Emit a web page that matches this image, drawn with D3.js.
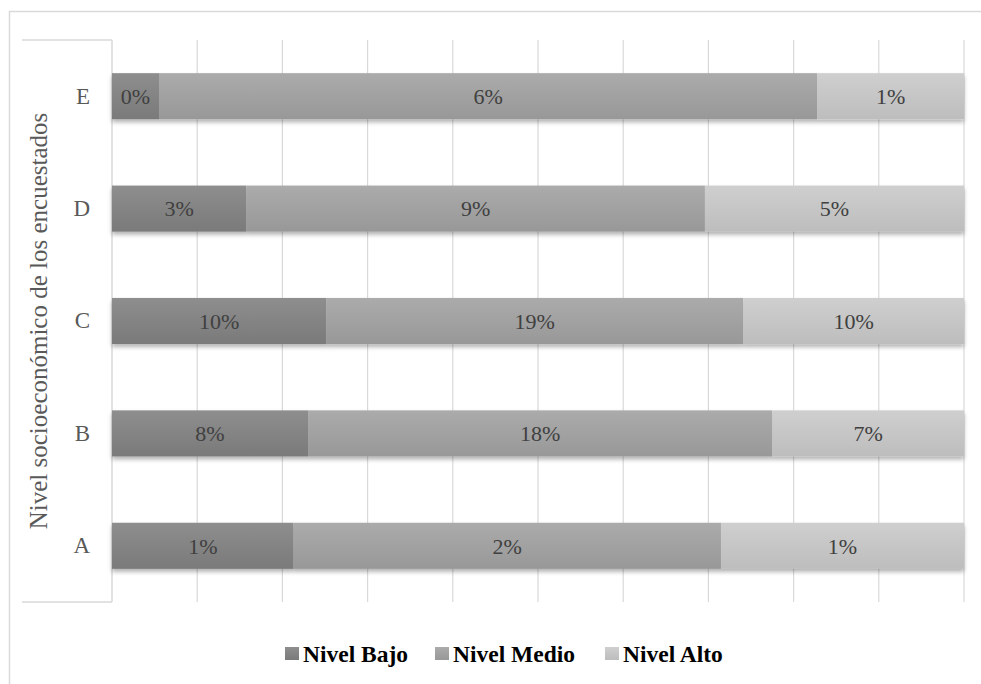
<!DOCTYPE html>
<html>
<head>
<meta charset="utf-8">
<script src="https://cdn.jsdelivr.net/npm/d3@7"></script>
</head>
<body style="margin:0;padding:0;background:#fff">
<div id="chart"></div>
<script>
// Socioeconomic level (A–E) split by level (Bajo / Medio / Alto), shares in %
const categories = ["A", "B", "C", "D", "E"];
const seriesNames = ["Nivel Bajo", "Nivel Medio", "Nivel Alto"];
const nivelBajo  = [0.68, 7.6, 9.8, 2.7, 0.4];
const nivelMedio = [1.6, 18.0, 19.1, 9.2, 5.6];
const nivelAlto  = [0.91, 7.43, 10.1, 5.2, 1.25];
const xTicks = [0, 0.1, 0.2, 0.3, 0.4, 0.5, 0.6, 0.7, 0.8, 0.9, 1];
const axisTitle = "Nivel socioeconómico de los encuestados";

const FONT = '"Liberation Serif"';
const W = 981, H = 684;
const plot = { left: 112, right: 964, top: 40, bottom: 602 };

const colors = [
  { top: "#8e8e8e", bottom: "#7a7a7a" },
  { top: "#ababab", bottom: "#989898" },
  { top: "#cfcfcf", bottom: "#bdbdbd" }
];

const rows = categories.map((c, i) => ({
  cat: c, "Nivel Bajo": nivelBajo[i], "Nivel Medio": nivelMedio[i], "Nivel Alto": nivelAlto[i]
}));

const stack = d3.stack().keys(seriesNames).offset(d3.stackOffsetExpand);
const layers = stack(rows);

const x = d3.scaleLinear().domain([0, 1]).range([plot.left, plot.right]);
const y = d3.scaleBand().domain(categories.slice().reverse())
  .range([plot.top, plot.bottom]).paddingInner(0.59).paddingOuter(0.295);

const svg = d3.select("#chart").append("svg").attr("width", W).attr("height", H)
  .style("display", "block");
const defs = svg.append("defs");

colors.forEach((c, i) => {
  const g = defs.append("linearGradient").attr("id", "grad" + i)
    .attr("x1", 0).attr("y1", 0).attr("x2", 0).attr("y2", 1);
  g.append("stop").attr("offset", "0%").attr("stop-color", c.top);
  g.append("stop").attr("offset", "100%").attr("stop-color", c.bottom);
});

const shadow = defs.append("filter").attr("id", "shadow")
  .attr("x", "-5%").attr("y", "-20%").attr("width", "110%").attr("height", "160%");
shadow.append("feDropShadow").attr("dx", 0).attr("dy", 3).attr("stdDeviation", 2)
  .attr("flood-color", "#000").attr("flood-opacity", 0.3);

// outer frame
svg.append("rect").attr("x", 9.5).attr("y", 11.5).attr("width", 985).attr("height", 700)
  .attr("fill", "none").attr("stroke", "#d9d9d9").attr("stroke-width", 1.5);

// category-axis box (top and bottom edges)
const boxColor = "#d9d9d9";
svg.append("line").attr("x1", 22).attr("x2", plot.left).attr("y1", plot.top).attr("y2", plot.top)
  .attr("stroke", boxColor).attr("stroke-width", 1.5);
svg.append("line").attr("x1", 22).attr("x2", plot.left).attr("y1", plot.bottom).attr("y2", plot.bottom)
  .attr("stroke", boxColor).attr("stroke-width", 1.5);

// vertical gridlines
svg.append("g").selectAll("line").data(xTicks).join("line")
  .attr("x1", d => x(d)).attr("x2", d => x(d))
  .attr("y1", plot.top).attr("y2", plot.bottom)
  .attr("stroke", "#d9d9d9").attr("stroke-width", d => d === 0 ? 1.5 : 1.2);

// stacked bars
const barG = svg.append("g").attr("filter", "url(#shadow)");
layers.forEach((layer, li) => {
  barG.append("g").selectAll("rect").data(layer).join("rect")
    .attr("x", d => x(d[0]))
    .attr("y", d => y(d.data.cat))
    .attr("width", d => x(d[1]) - x(d[0]))
    .attr("height", y.bandwidth())
    .attr("fill", `url(#grad${li})`);
});

// value labels
const fmt = v => Math.round(v) + "%";
layers.forEach(layer => {
  svg.append("g").selectAll("text").data(layer).join("text")
    .attr("x", d => (x(d[0]) + x(d[1])) / 2)
    .attr("y", d => y(d.data.cat) + y.bandwidth() / 2)
    .attr("dy", "0.35em")
    .attr("text-anchor", "middle")
    .style("font-family", FONT)
    .style("font-size", "22px")
    .attr("fill", "#404040")
    .text(d => fmt(d.data[layer.key]));
});

// category labels
const yAxis = d3.axisLeft(y).tickSize(0).tickPadding(22);
const yg = svg.append("g").attr("transform", `translate(${plot.left},0)`).call(yAxis);
yg.select(".domain").remove();
yg.selectAll("text")
  .style("font-family", FONT)
  .style("font-size", "23px").attr("fill", "#595959");

// axis title
svg.append("text")
  .attr("transform", `translate(47,${(plot.top + plot.bottom) / 2}) rotate(-90)`)
  .attr("text-anchor", "middle")
  .style("font-family", FONT)
  .style("font-size", "25px").attr("fill", "#595959")
  .text(axisTitle);

// legend
const legendY = 654;
const legendItems = [
  { name: seriesNames[0], x: 285 },
  { name: seriesNames[1], x: 435 },
  { name: seriesNames[2], x: 605 }
];
const lg = svg.append("g");
legendItems.forEach((it, i) => {
  lg.append("rect").attr("x", it.x).attr("y", legendY - 7).attr("width", 14).attr("height", 13)
    .attr("fill", `url(#grad${i})`);
  lg.append("text").attr("x", it.x + 18).attr("y", legendY).attr("dy", "0.35em")
    .style("font-family", FONT)
    .style("font-size", "23.5px").style("font-weight", "bold").attr("fill", "#000")
    .text(it.name);
});
</script>
</body>
</html>
